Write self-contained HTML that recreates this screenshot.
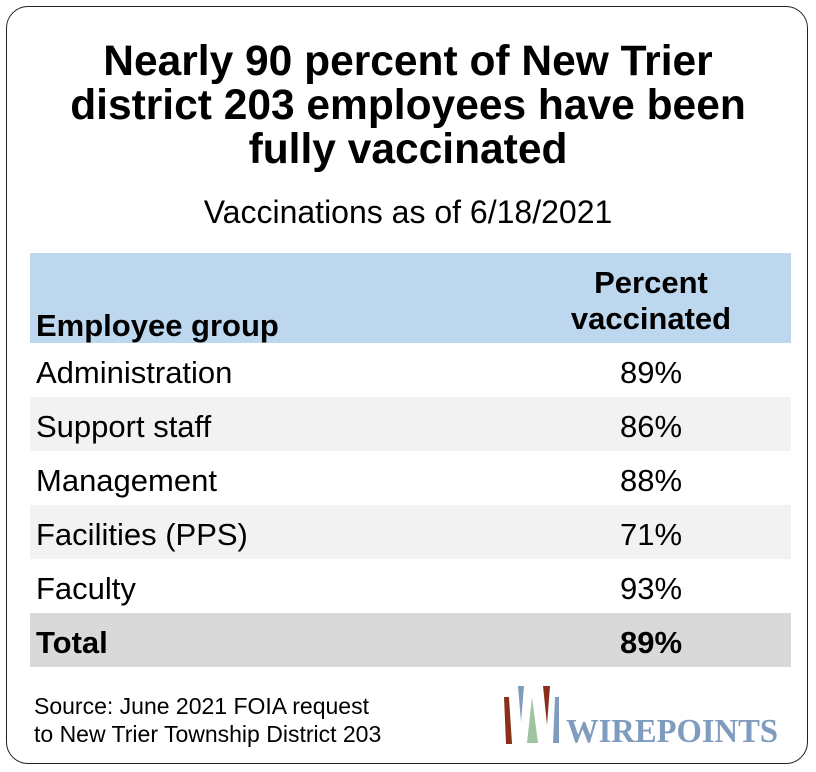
<!DOCTYPE html>
<html><head><meta charset="utf-8"><style>
body{margin:0;width:816px;height:772px;background:#fff;font-family:"Liberation Sans",Arial,sans-serif;position:relative;overflow:hidden}
.box{position:absolute;left:6px;top:6px;width:802px;height:758px;border:1.5px solid #222;border-radius:22px;box-sizing:border-box}
.t{position:absolute;left:0;width:816px;text-align:center;font-weight:bold;font-size:42.5px;line-height:44px;color:#000}
.sub{position:absolute;left:0;width:816px;text-align:center;font-size:32px;line-height:32px;top:196px}
.row{position:absolute;left:30px;width:761px;height:54px;font-size:31px;line-height:32px}
.row .a{position:absolute;left:6px;top:14px}
.row .b{position:absolute;left:530px;width:182px;text-align:center;top:14px}
.src{position:absolute;left:34px;top:692px;font-size:23px;line-height:28px}
</style></head><body>
<div class="box"></div>
<div class="t" style="top:40px">Nearly 90 percent of New Trier</div>
<div class="t" style="top:84px">district 203 employees have been</div>
<div class="t" style="top:128px">fully vaccinated</div>
<div class="sub">Vaccinations as of 6/18/2021</div>
<div class="row" style="top:253px;height:90px;background:#bdd7ee;font-weight:bold">
<div class="a" style="top:57px">Employee group</div>
<div class="b" style="top:12px;left:500px;width:242px;line-height:36px">Percent<br>vaccinated</div></div>
<div class="row" style="top:343px"><div class="a">Administration</div><div class="b">89%</div></div>
<div class="row" style="top:397px;background:#f2f2f2"><div class="a">Support staff</div><div class="b">86%</div></div>
<div class="row" style="top:451px"><div class="a">Management</div><div class="b">88%</div></div>
<div class="row" style="top:505px;background:#f2f2f2"><div class="a">Facilities (PPS)</div><div class="b">71%</div></div>
<div class="row" style="top:559px"><div class="a">Faculty</div><div class="b">93%</div></div>
<div class="row" style="top:613px;background:#d9d9d9;font-weight:bold"><div class="a">Total</div><div class="b">89%</div></div>
<div class="src">Source: June 2021 FOIA request<br>to New Trier Township District 203</div>
<svg style="position:absolute;left:0;top:0" width="816" height="772">
<polygon points="504,697 509,697 512,744 506,744" fill="#8b2e1a"/>
<polygon points="518,686 524,686 521,722" fill="#7f9bbd"/>
<polygon points="532,697 538,743 527,743" fill="#9fc5a0"/>
<polygon points="543,686 550,686 547,725" fill="#8b2e1a"/>
<polygon points="555,697 559,697 559,743 553,743" fill="#7f9bbd"/>
<text x="566" y="742" font-family="Liberation Serif,serif" font-weight="bold" font-size="34" fill="#7f9bbd" textLength="212" lengthAdjust="spacingAndGlyphs">WIREPOINTS</text>
</svg>
</body></html>
